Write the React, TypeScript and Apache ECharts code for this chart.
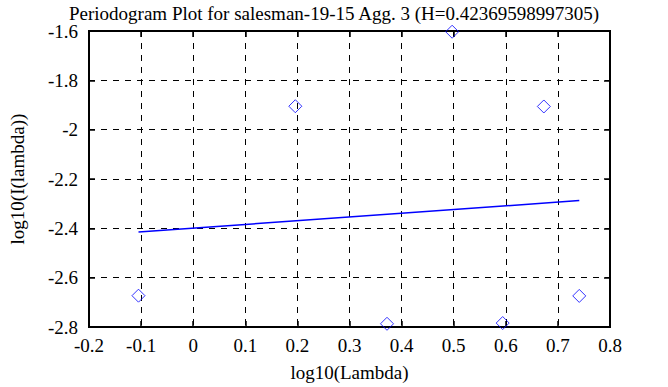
import React, { useEffect, useRef } from "react";
import * as echarts from "echarts";

const logLambda = [-0.105, 0.196, 0.372, 0.497, 0.594, 0.673, 0.741];
const logI = [-2.673, -1.905, -2.787, -1.603, -2.784, -1.906, -2.674];
const fitX = [-0.105, 0.741];
const fitY = [-2.415, -2.2875];
const titleText = "Periodogram Plot for salesman-19-15 Agg. 3 (H=0.42369598997305)";

const fmt = (v: number) => {
  const r = Math.round(v * 10) / 10;
  return r === 0 ? "0" : String(r);
};

export default function App() {
  const ref = useRef<HTMLDivElement>(null);
  useEffect(() => {
    if (!ref.current) return;
    const chart = echarts.init(ref.current, null, { renderer: "svg" });
    const font = "'Liberation Serif', 'Times New Roman', 'DejaVu Serif', serif";
    const fs = 19;
    const common = {
      type: "value" as const,
      axisLine: { show: false, onZero: false },
      axisTick: { show: true, inside: true, length: 6, lineStyle: { color: "#000", width: 1.5 } },
    };
    chart.setOption({
      animation: false,
      backgroundColor: "#fff",
      textStyle: { fontFamily: font },
      title: {
        text: titleText,
        left: "center",
        top: -1,
        textStyle: { fontFamily: font, fontSize: fs, fontWeight: "normal", color: "#000" },
      },
      grid: {
        left: 82,
        right: 58,
        top: 31,
        bottom: 57,
        show: true,
        borderColor: "#000",
        borderWidth: 2,
        backgroundColor: "#fff",
      },
      xAxis: [
        {
          ...common,
          min: -0.2,
          max: 0.8,
          interval: 0.1,
          position: "bottom",
          name: "log10(Lambda)",
          nameLocation: "middle",
          nameGap: 36,
          nameTextStyle: { fontFamily: font, fontSize: fs, color: "#000" },
          axisLabel: { fontFamily: font, fontSize: fs, color: "#000", margin: 9, formatter: fmt },
          splitLine: { show: true, lineStyle: { color: "#000", type: [6, 6], width: 1 } },
        },
        {
          ...common,
          min: -0.2,
          max: 0.8,
          interval: 0.1,
          position: "top",
          axisLabel: { show: false },
          splitLine: { show: false },
        },
      ],
      yAxis: [
        {
          ...common,
          min: -2.8,
          max: -1.6,
          interval: 0.2,
          position: "left",
          name: "log10(I(lambda))",
          nameLocation: "middle",
          nameGap: 62,
          nameTextStyle: { fontFamily: font, fontSize: fs, color: "#000" },
          axisLabel: { fontFamily: font, fontSize: fs, color: "#000", margin: 11, formatter: fmt },
          splitLine: { show: true, lineStyle: { color: "#000", type: [6, 6], width: 1 } },
        },
        {
          ...common,
          min: -2.8,
          max: -1.6,
          interval: 0.2,
          position: "right",
          axisLabel: { show: false },
          splitLine: { show: false },
        },
      ],
      series: [
        {
          type: "scatter",
          data: logLambda.map((x, i) => [x, logI[i]]),
          symbol: "diamond",
          symbolSize: 13,
          itemStyle: { color: "transparent", borderColor: "#0000ff", borderWidth: 1 },
          clip: false,
          z: 5,
        },
        {
          type: "line",
          data: fitX.map((x, i) => [x, fitY[i]]),
          showSymbol: false,
          symbol: "none",
          lineStyle: { color: "#0000ff", width: 1.5 },
          z: 4,
        },
      ],
    });
    return () => chart.dispose();
  }, []);
  return <div ref={ref} style={{ width: 668, height: 387, position: "absolute", left: 0, top: 0 }} />;
}
